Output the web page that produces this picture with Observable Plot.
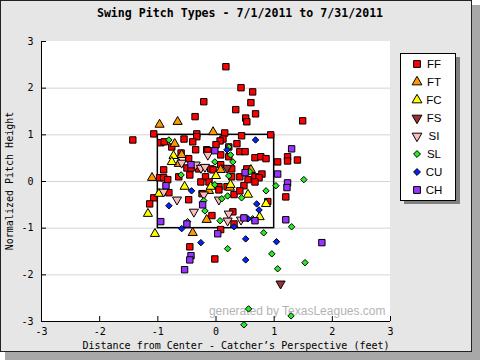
<!DOCTYPE html>
<html><head><meta charset="utf-8">
<script src="https://cdn.jsdelivr.net/npm/d3@7"></script>
<script src="https://cdn.jsdelivr.net/npm/@observablehq/plot@0.6"></script>
<style>body{margin:0;background:#fff}</style>
</head><body><div id="chart"></div>
<script>
const title = "Swing Pitch Types - 7/1/2011 to 7/31/2011";
const xLabel = "Distance from Center - Catcher’s Perspective (feet)";
const yLabel = "Normalized Pitch Height";
const credit = "generated by TexasLeagues.com";
const types = ["FF","FT","FC","FS","SI","SL","CU","CH"];
const colors = ["#ff0000","#ff9900","#ffff00","#993333","#ffbbbb","#22ee22","#0022ff","#9933ff"];
const xTicks = [-3,-2,-1,0,1,2,3];
const yTicks = [-3,-2,-1,0,1,2,3];
const gridLines = [-2,-1,0,1,2];
const zone = [{x1:-1,x2:1,y1:-1,y2:1}];

const FF = [[0.17,2.46],[0.43,2.01],[0.63,1.92],[-0.21,1.71],[0.60,1.69],[0.34,1.54],[0.68,1.45],[0.51,1.36],[0.53,1.28],[-0.36,1.39],[-1.07,1.02],[-1.43,0.89],[-0.33,1.02],[-0.33,0.96],[0.15,1.04],[0.44,0.98],[0.94,1.00],[-0.95,0.83],[-0.89,0.85],[-0.55,0.91],[-0.40,0.85],[-0.76,0.74],[0.12,0.91],[0.07,0.87],[0.00,0.79],[0.36,0.81],[0.22,0.74],[0.41,0.64],[0.50,0.64],[0.08,0.57],[0.22,0.53],[-0.35,0.68],[-0.16,0.68],[-0.14,0.66],[-0.60,0.61],[-0.47,0.49],[-0.50,0.29],[-0.43,0.29],[-0.90,0.25],[-0.30,0.27],[-0.09,0.27],[-0.05,0.25],[0.08,0.36],[0.27,0.27],[0.53,0.27],[0.67,0.51],[0.77,0.53],[0.86,0.49],[1.06,0.42],[1.23,0.53],[1.23,0.44],[1.40,0.46],[0.79,0.16],[0.67,0.10],[0.74,0.08],[0.55,0.04],[0.67,-0.01],[-0.97,0.08],[-0.90,0.08],[-0.83,0.04],[-0.64,0.10],[-0.45,0.14],[-0.18,0.10],[-0.26,-0.01],[-0.12,-0.01],[0.27,0.10],[0.41,0.10],[0.48,-0.09],[0.05,-0.11],[0.19,-0.11],[1.49,1.30],[-0.81,-0.24],[-1.07,-0.35],[-1.14,-0.48],[-0.47,-0.39],[-0.24,-0.26],[-0.07,-0.73],[0.29,-0.65],[0.31,-0.91],[0.31,-0.28],[0.41,-0.20],[0.05,-0.18],[0.89,-0.43],[1.20,-0.33],[-0.45,-1.40],[0.08,-1.03],[-0.02,-1.66]];
const FT = [[-0.97,1.22],[-0.66,1.28],[-0.05,1.06],[-0.71,0.81],[-0.59,0.57],[-0.64,0.38],[0.08,0.25],[0.60,0.25],[-1.10,0.08],[0.24,-0.13],[-0.12,-0.20],[-0.16,-0.82],[-0.40,-1.10]];
const FC = [[-0.73,0.55],[-0.76,0.42],[0.00,0.12],[0.25,-0.07],[-0.54,-0.11],[-0.09,-0.11],[-0.98,-0.26],[-1.17,-0.69],[0.55,-0.28],[0.86,-0.48],[0.75,-0.76],[-1.05,-1.12]];
const FS = [[0.19,0.29],[1.11,-2.19]];
const SI = [[-0.14,0.57],[-0.59,0.40],[-0.35,0.36],[-0.26,0.29],[-0.19,0.31],[-0.90,-0.22],[-0.67,-0.39],[-0.38,-0.65],[-0.21,-0.28],[0.05,-0.39],[0.22,-0.69],[0.20,-0.84],[0.43,-0.82]];
const SL = [[-0.81,0.89],[0.22,0.74],[0.25,0.57],[0.29,0.42],[-0.02,0.42],[0.58,0.21],[-0.60,0.14],[0.22,0.12],[-0.02,-0.07],[1.03,-0.09],[1.51,0.04],[-0.21,-0.41],[-0.19,-0.63],[-0.49,-0.86],[0.07,-0.84],[0.10,-0.37],[0.20,-0.31],[0.44,-0.35],[0.86,-0.20],[0.63,-0.80],[0.82,-1.10],[1.30,-0.97],[0.20,-1.44],[0.96,-1.55],[1.06,-1.87],[1.53,-1.74],[0.56,-2.73],[1.29,-2.88],[0.48,-3.07]];
const CU = [[0.68,0.89],[0.19,0.68],[-0.42,-0.20],[-0.81,-0.52],[-0.59,-1.01],[0.31,-0.97],[0.70,-0.48],[0.74,-0.61],[0.55,-0.80],[0.51,-1.23],[1.04,-1.29],[-0.26,-1.31],[0.51,-1.68]];
const CH = [[-0.02,0.66],[-0.43,0.36],[0.50,0.19],[1.30,0.70],[1.06,0.16],[-0.86,-0.09],[1.23,-0.03],[1.22,-0.13],[-0.23,-0.50],[-0.95,-0.86],[-0.50,-0.91],[0.03,-1.12],[0.48,-0.78],[0.67,-0.84],[1.20,-0.82],[1.82,-1.31],[-0.43,-1.59],[-0.45,-1.68],[-0.54,-1.89]];

const series = [FF,FT,FC,FS,SI,SL,CU,CH];

// symbol shapes
const sqrt3 = Math.sqrt(3);
const triDown = {draw(ctx, size){ const y = Math.sqrt(size/(sqrt3*3)); ctx.moveTo(0,y*2); ctx.lineTo(sqrt3*y,-y); ctx.lineTo(-sqrt3*y,-y); ctx.closePath(); }};
const diamond = {draw(ctx, size){ const r = Math.sqrt(size)*0.62625; ctx.moveTo(0,-r); ctx.lineTo(r,0); ctx.lineTo(0,r); ctx.lineTo(-r,0); ctx.closePath(); }};
const shapes = {FF:d3.symbolSquare, FT:d3.symbolTriangle, FC:d3.symbolTriangle, FS:triDown, SI:triDown, SL:diamond, CU:diamond, CH:d3.symbolSquare};
const radii = {FF:3.6, FT:3.4, FC:3.4, FS:3.4, SI:3.4, SL:2.9, CU:2.9, CH:3.6};

const points = types.flatMap((t,i) => series[i].map(([x,y]) => ({type:t, x, y})));

const dotMarks = types.map(t => Plot.dot(points.filter(d => d.type === t), {
  x:"x", y:"y", fill:"type", stroke:"#000", strokeWidth:1, symbol: () => shapes[t], r: radii[t]
}));

const svg = Plot.plot({
  width:480, height:360,
  marginLeft:41, marginRight:90, marginTop:41, marginBottom:39,
  x:{domain:[-3,3], label:null},
  y:{domain:[-3,3], label:null},
  color:{domain:types, range:colors},
  symbol:{type:"identity"},
  style:{background:"transparent", fontFamily:"'DejaVu Sans Mono', monospace", fontSize:"10px", color:"#000", overflow:"visible"},
  marks:[
    Plot.ruleY(gridLines, {stroke:"#d4d4d4"}),
    Plot.text([credit], {frameAnchor:"bottom-right", dx:-5, dy:-7, lineAnchor:"bottom", textAnchor:"end", fill:"#b4b4b4", fontFamily:"'Liberation Sans', Arial, sans-serif", fontSize:12}),
    Plot.rect(zone, {x1:"x1", x2:"x2", y1:"y1", y2:"y2", fill:"none", stroke:"#000", strokeWidth:1.5}),
    ...dotMarks,
    Plot.ruleX([-3], {stroke:"#000"}),
    Plot.ruleY([-3], {stroke:"#000"}),
    Plot.axisX(xTicks, {tickSize:0, tickPadding:6, tickFormat:d => String(d), label:null}),
    Plot.axisX(xTicks, {tickSize:5, dy:-5, tickFormat:() => "", label:null}),
    Plot.axisY(yTicks, {tickSize:0, tickPadding:8, tickFormat:d => String(d), label:null}),
    Plot.axisY(yTicks, {tickSize:5, dx:5, tickFormat:() => "", label:null})
  ]
});

const s = d3.select(svg);
// background layers
const bg = s.insert("g", ":first-child");
bg.append("rect").attr("x",5).attr("y",5).attr("width",475).attr("height",355).attr("fill","#a8a8a8");
bg.append("rect").attr("x",0.5).attr("y",0.5).attr("width",471).attr("height",351).attr("fill","#e6e6e6").attr("stroke","#222");
bg.append("rect").attr("x",41).attr("y",41).attr("width",349).attr("height",280).attr("fill","#fff");

// titles
s.append("text").attr("x",240).attr("y",17).attr("text-anchor","middle")
  .attr("font-family","'DejaVu Sans Mono', monospace").attr("font-weight","bold").attr("font-size",11.6).text(title);
s.append("text").attr("x",236).attr("y",349).attr("text-anchor","middle")
  .attr("font-family","'DejaVu Sans Mono', monospace").attr("font-size",10).text(xLabel);
s.append("text").attr("transform","translate(13,181) rotate(-90)").attr("text-anchor","middle")
  .attr("font-family","'DejaVu Sans Mono', monospace").attr("font-size",10).text(yLabel);

// legend
const lg = s.append("g");
lg.append("rect").attr("x",404).attr("y",57).attr("width",56).attr("height",147).attr("fill","#808080");
lg.append("rect").attr("x",400.5).attr("y",53.5).attr("width",55).attr("height",147).attr("fill","#fff").attr("stroke","#000");
types.forEach((t,i) => {
  const cy = 64 + i*18;
  lg.append("path").attr("transform",`translate(417,${cy})`)
    .attr("d", d3.symbol(shapes[t], Math.PI*radii[t]*radii[t]*1.15)())
    .attr("fill", colors[i]).attr("stroke","#000");
  lg.append("text").attr("x",434).attr("y",cy+4).attr("font-family","'Liberation Sans', Arial, sans-serif").attr("font-size",11.5).text(t);
});

document.getElementById("chart").append(svg);
</script>
</body></html>
